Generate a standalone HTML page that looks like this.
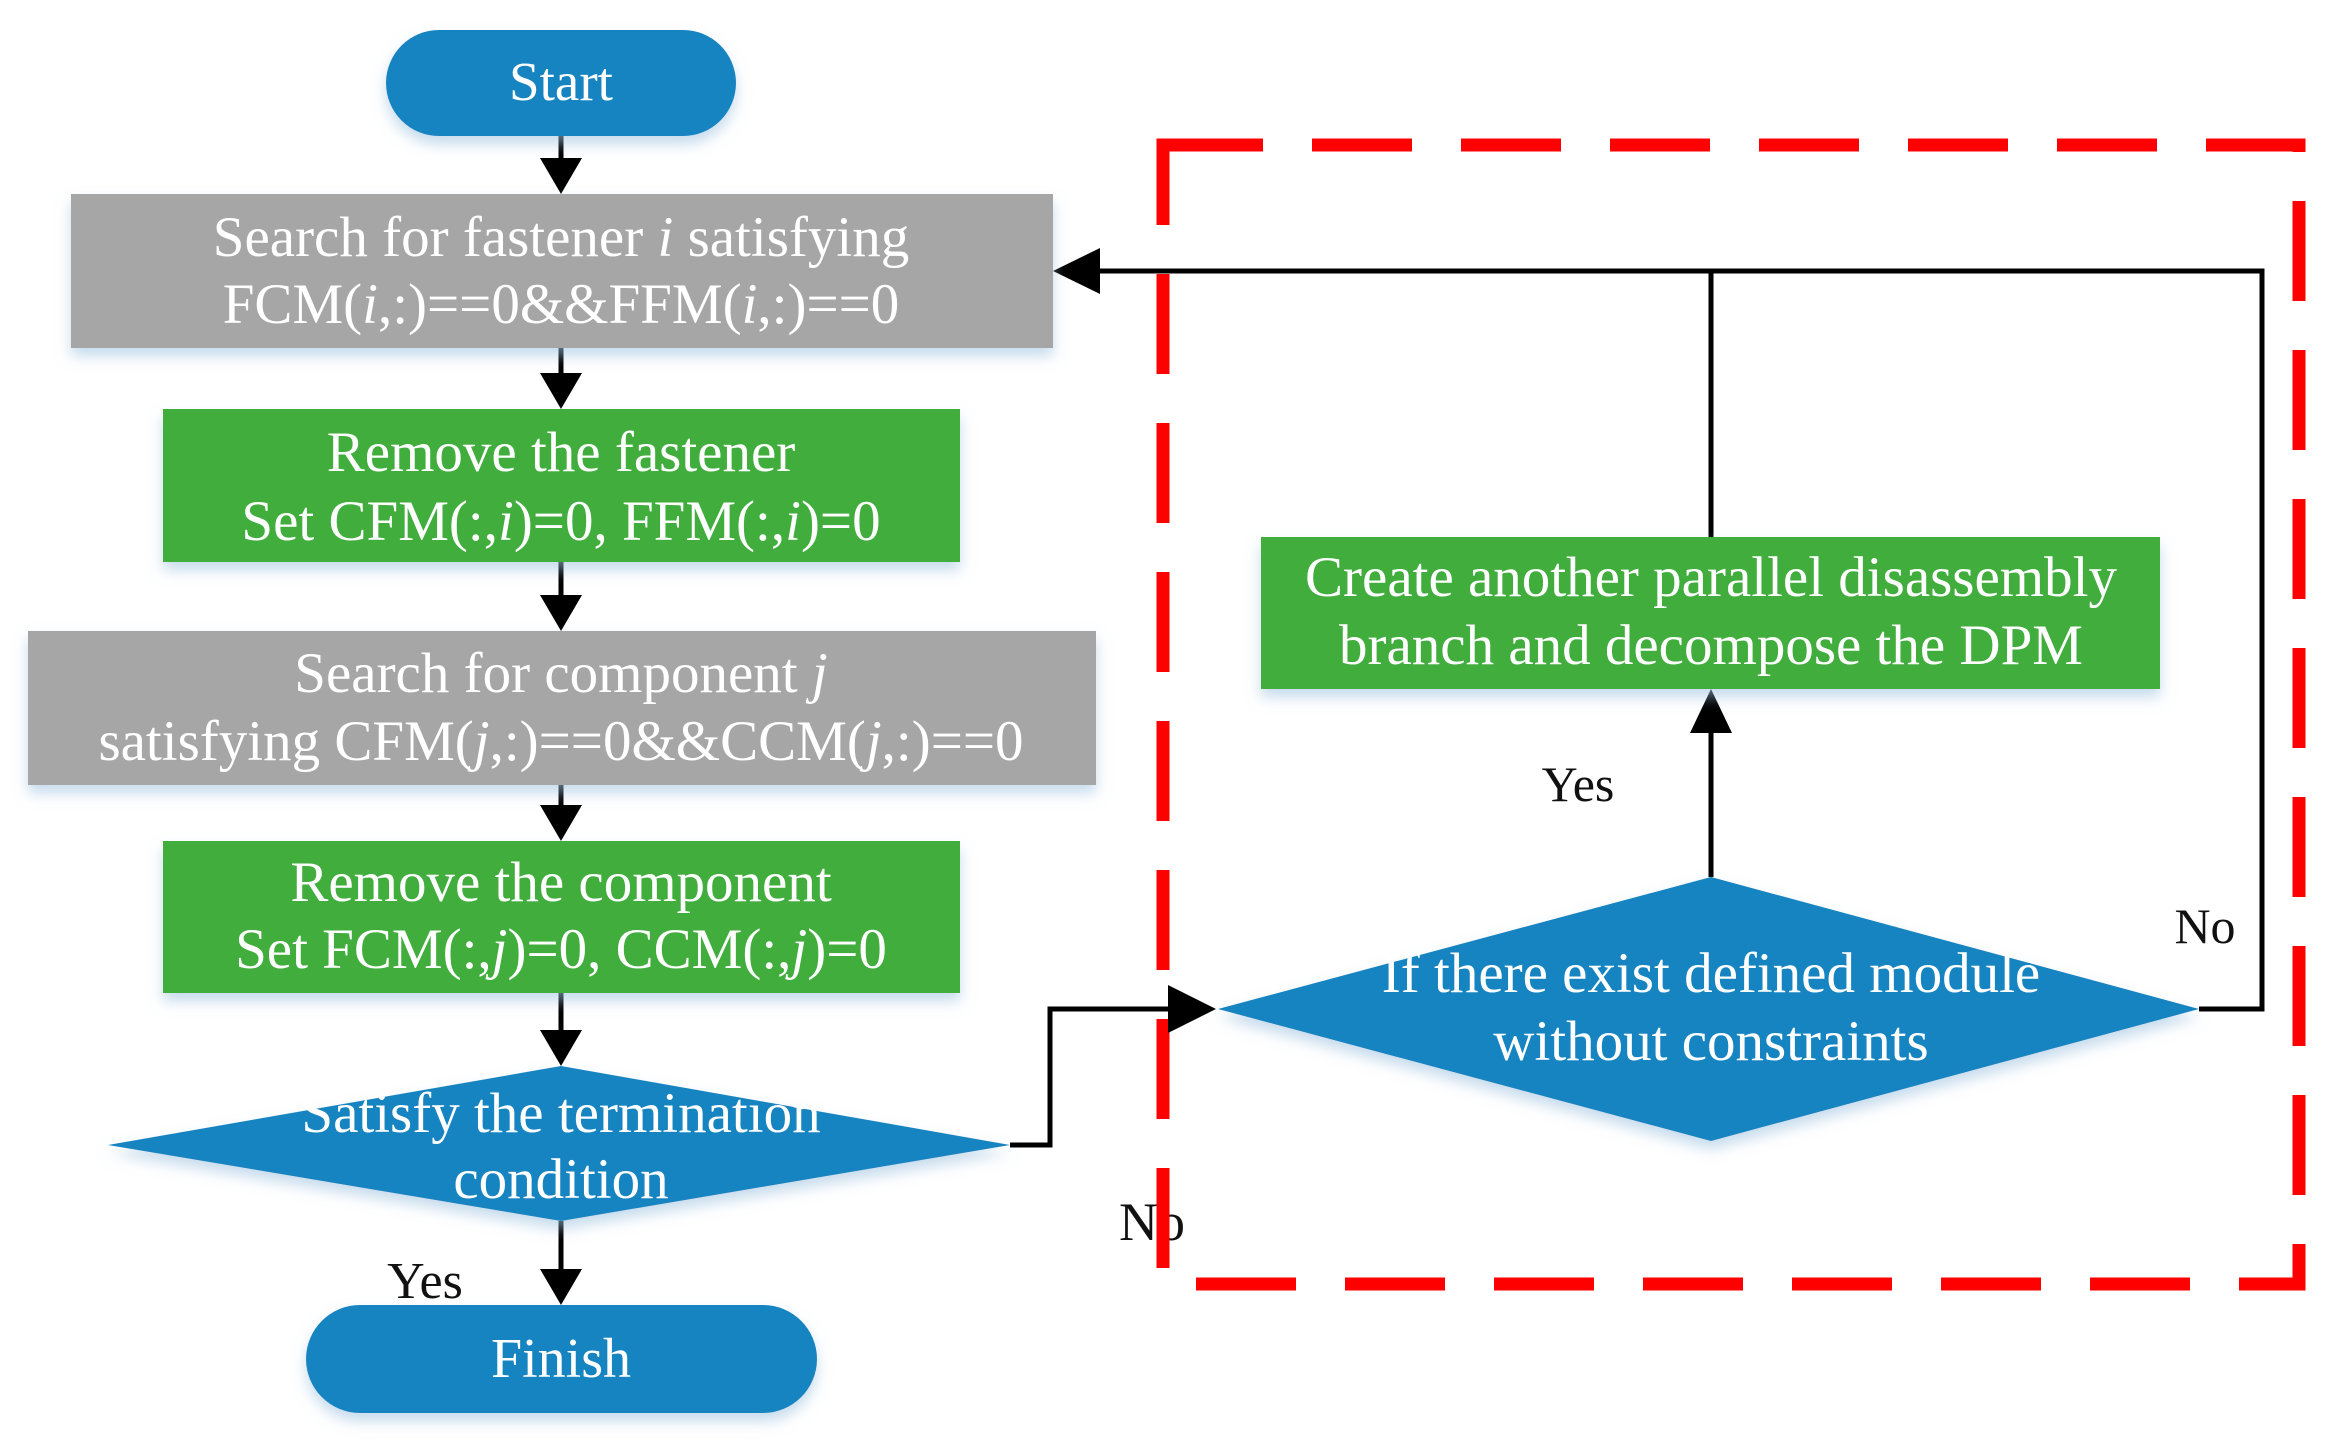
<!DOCTYPE html>
<html><head><meta charset="utf-8"><style>
html,body{margin:0;padding:0;background:#fff;}
svg{display:block;}
text{font-family:"Liberation Serif",serif;fill:#fff;text-anchor:middle;}
.b{fill:#111;}
</style></head><body>
<svg width="2331" height="1446" viewBox="0 0 2331 1446" xmlns="http://www.w3.org/2000/svg">
<defs>
<filter id="sh" x="-10%" y="-20%" width="120%" height="150%">
<feDropShadow dx="0" dy="8" stdDeviation="7" flood-color="#9fc3e0" flood-opacity="0.6"/>
</filter>
</defs>
<text class="b" x="1152" y="1240" font-size="54">No</text>
<rect x="1163" y="145" width="1136" height="1139" fill="none" stroke="#ff0000" stroke-width="13" stroke-dasharray="100 49"/>

<g stroke="#000" stroke-width="5" fill="none">
<line x1="561" y1="136" x2="561" y2="160"/>
<line x1="561" y1="348" x2="561" y2="375"/>
<line x1="561" y1="562" x2="561" y2="597"/>
<line x1="561" y1="785" x2="561" y2="807"/>
<line x1="561" y1="993" x2="561" y2="1032"/>
<line x1="561" y1="1221" x2="561" y2="1271"/>
<polyline points="1010,1145 1050,1145 1050,1009 1172,1009"/>
<polyline points="1711,877 1711,730"/>
<polyline points="1711,537 1711,271"/>
<polyline points="2199,1009 2262,1009 2262,271 1100,271"/>
</g>
<g fill="#000">
<polygon points="540,158 582,158 561,194"/>
<polygon points="540,373 582,373 561,409"/>
<polygon points="540,595 582,595 561,631"/>
<polygon points="540,805 582,805 561,841"/>
<polygon points="540,1030 582,1030 561,1066"/>
<polygon points="540,1269 582,1269 561,1305"/>
<polygon points="1168,985 1168,1033 1216,1009"/>
<polygon points="1690,733 1732,733 1711,689"/>
<polygon points="1100,248 1100,294 1053,271"/>
</g>

<g filter="url(#sh)">
<rect x="386" y="30" width="350" height="106" rx="53" fill="#1784c1"/>
<rect x="71" y="194" width="982" height="154" fill="#a6a6a6"/>
<rect x="163" y="409" width="797" height="153" fill="#41ad3c"/>
<rect x="28" y="631" width="1068" height="154" fill="#a6a6a6"/>
<rect x="163" y="841" width="797" height="152" fill="#41ad3c"/>
<polygon points="108,1145 561,1066 1010,1145 561,1221" fill="#1784c1"/>
<rect x="306" y="1305" width="511" height="108" rx="54" fill="#1784c1"/>
<rect x="1261" y="537" width="899" height="152" fill="#41ad3c"/>
<polygon points="1218,1009 1711,877 2199,1009 1711,1141" fill="#1784c1"/>
</g>

<text x="561" y="100" font-size="55">Start</text>
<text x="561" y="256" font-size="57">Search for fastener <tspan font-style="italic">i</tspan> satisfying</text>
<text x="561" y="323" font-size="57">FCM(<tspan font-style="italic">i</tspan>,:)==0&amp;&amp;FFM(<tspan font-style="italic">i</tspan>,:)==0</text>
<text x="561" y="471" font-size="57">Remove the fastener</text>
<text x="561" y="540" font-size="57">Set CFM(:,<tspan font-style="italic">i</tspan>)=0, FFM(:,<tspan font-style="italic">i</tspan>)=0</text>
<text x="561" y="692" font-size="57">Search for component <tspan font-style="italic">j</tspan></text>
<text x="561" y="760" font-size="57">satisfying CFM(<tspan font-style="italic">j</tspan>,:)==0&amp;&amp;CCM(<tspan font-style="italic">j</tspan>,:)==0</text>
<text x="561" y="901" font-size="57">Remove the component</text>
<text x="561" y="968" font-size="57">Set FCM(:,<tspan font-style="italic">j</tspan>)=0, CCM(:,<tspan font-style="italic">j</tspan>)=0</text>
<text x="561" y="1132" font-size="57">Satisfy the termination</text>
<text x="561" y="1198" font-size="57">condition</text>
<text x="561" y="1377" font-size="56">Finish</text>
<text x="1711" y="596" font-size="57">Create another parallel disassembly</text>
<text x="1711" y="664" font-size="57">branch and decompose the DPM</text>
<text x="1711" y="992" font-size="57">If there exist defined module</text>
<text x="1711" y="1060" font-size="57">without constraints</text>

<text class="b" x="425" y="1298" font-size="52">Yes</text>
<text class="b" x="1578" y="801" font-size="50">Yes</text>
<text class="b" x="2205" y="943" font-size="50">No</text>
</svg>
</body></html>
